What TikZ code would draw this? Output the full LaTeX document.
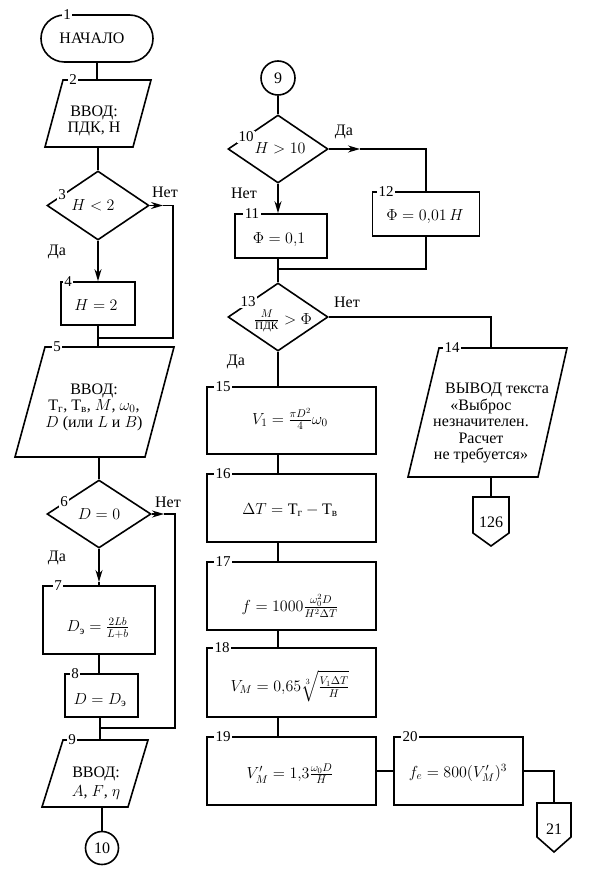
\RequirePackage{fix-cm}
\documentclass[tikz,border=0pt]{standalone}
\usepackage{amsmath}
\usepackage[no-math]{fontspec}
\setmainfont{Liberation Serif}
\usetikzlibrary{shapes.geometric,arrows.meta}
\tikzset{
  ln/.style={line width=1.6pt},
  arr/.style={line width=1.6pt,-{Stealth[length=12pt,width=7pt]}},
  rbox/.style={draw,line width=1.6pt,rectangle,inner sep=0pt},
  dbox/.style={draw,line width=1.6pt,diamond,inner sep=0pt},
  txt/.style={inner sep=0pt,align=center,font=\fontsize{16}{16.5}\selectfont},
  num/.style={fill=white,inner sep=1.3pt,font=\fontsize{15}{15}\selectfont},
  conn/.style={draw,line width=1.6pt,circle,inner sep=0pt,font=\fontsize{16}{16}\selectfont}
}
\begin{document}
\begin{tikzpicture}[x=1pt,y=-1pt]
\useasboundingbox (0,0) rectangle (589,877);
% ---------------- left column ----------------
% 1
\node[rbox, rounded corners=23.5pt, minimum width=112pt, minimum height=47pt] (n1) at (97,38.5) {};
\node[txt] (t1) at (92,38) {НАЧАЛО};
% 2
\draw[ln] (63,80) -- (151,80) -- (133,147) -- (45,147) -- cycle;
\coordinate (p2n) at (97,80);
\coordinate (p2s) at (98,147);
\node[txt] (t2) at (94,121) {ВВОД:\\ПДК, Н};
\draw[ln] (n1.south) -- (p2n);
% 3
\node[dbox, minimum width=102pt, minimum height=69pt] (d3) at (98,205.5) {};
\node[txt] (t3) at (93,205) {$H<2$};
\draw[ln] (p2s) -- (d3.north);
\coordinate (a3) at (163,205.5);
\coordinate (c3) at (173,205.5);
\coordinate (c3b) at (173,338);
\coordinate (j5) at (98,338);
\draw[arr] (d3.east) -- (a3);
\draw[ln] (a3) -- (c3) -- (c3b) -- (j5);
\node[txt] (no3) at (165,192) {Нет};
\node[txt] (yes3) at (57,252) {Да};
% 4
\node[rbox, minimum width=74pt, minimum height=43pt] (r4) at (98,303.5) {};
\node[txt] (t4) at (96,305) {$H=2$};
\draw[arr] (d3.south) -- (r4.north);
\coordinate (p5n) at (98,347);
\draw[ln] (r4.south) -- (p5n);
% 5
\draw[ln] (45,347) -- (174,347) -- (145,457) -- (15,457) -- cycle;
\node[txt] (t5) at (94,407) {ВВОД:\\$\text{Т}_\text{г}$, $\text{Т}_\text{в}$, $M$, $\omega_0$,\\$D$ (или $L$ и $B$)};
\coordinate (p5s) at (99,457);
% 6
\node[dbox, minimum width=104pt, minimum height=68pt] (d6) at (99,514) {};
\node[txt] (t6) at (99,514) {$D=0$};
\draw[ln] (p5s) -- (d6.north);
\coordinate (a6) at (164,514);
\coordinate (c6) at (175,514);
\coordinate (c6b) at (175,728);
\coordinate (j9) at (100,728);
\draw[arr] (d6.east) -- (a6);
\draw[ln] (a6) -- (c6) -- (c6b) -- (j9);
\node[txt] (no6) at (168,502) {Нет};
\node[txt] (yes6) at (57,558) {Да};
% 7
\node[rbox, minimum width=112pt, minimum height=68pt] (r7) at (99,620) {};
\node[txt] (t7) at (98,628) {$D_\text{э}=\frac{2Lb}{L+b}$};
\coordinate (a6d) at (99,582);
\draw[arr] (d6.south) -- (a6d);
\draw[ln] (a6d) -- (r7.north);
% 8
\node[rbox, minimum width=73pt, minimum height=43pt] (r8) at (101.5,695.5) {};
\node[txt] (t8) at (100,700) {$D=D_\text{э}$};
\draw[ln] (r7.south) -- (r7.south |- r8.north);
\coordinate (p9n) at (100,740);
\draw[ln] (r8.south -| p9n) -- (p9n);
% 9
\draw[ln] (63,740) -- (148,740) -- (128,807) -- (42,807) -- cycle;
\node[txt] (t9) at (96,783) {ВВОД:\\[2pt]$A$, $F$, $\eta$};
\coordinate (p9s) at (102,807);
\node[conn, minimum size=33pt] (c10) at (102,848) {10};
\draw[ln] (p9s) -- (c10.north);
% ---------------- right column ----------------
\node[conn, minimum size=34pt] (c9) at (278,78) {9};
\node[dbox, minimum width=100pt, minimum height=68pt] (d10) at (278,149) {};
\node[txt] (t10) at (280,148) {$H>10$};
\draw[ln] (c9.south) -- (d10.north);
\coordinate (a10) at (360,149);
\coordinate (c10r) at (426,149);
\node[rbox, minimum width=107pt, minimum height=44pt] (r12) at (426,214) {};
\node[txt] (t12) at (425,217) {$\Phi=0{,}01\,H$};
\draw[arr] (d10.east) -- (a10);
\draw[ln] (a10) -- (c10r) -- (r12.north);
\node[txt] (yes10) at (344,132) {Да};
\node[txt] (no10) at (244,193) {Нет};
% 11
\node[rbox, minimum width=92pt, minimum height=44pt] (r11) at (281,236) {};
\node[txt] (t11) at (279,240) {$\Phi=0{,}1$};
\draw[arr] (d10.south) -- (d10.south |- r11.north);
% join
\coordinate (j13) at (278,269);
\coordinate (j12) at (426,269);
\draw[ln] (r12.south) -- (j12) -- (j13);
% 13
\node[dbox, minimum width=100pt, minimum height=68pt] (d13) at (278,317) {};
\node[txt] (t13) at (283,321) {$\frac{M}{\text{ПДК}}>\Phi$};
\draw[ln] (d10.south |- r11.south) -- (d13.north);
\coordinate (c13) at (491,317);
\coordinate (p14n) at (491,348);
\draw[ln] (d13.east) -- (c13) -- (p14n);
\node[txt] (no13) at (347,302) {Нет};
\node[txt] (yes13) at (236,362) {Да};
% 14
\draw[ln] (439,348) -- (567,348) -- (538,477) -- (408,477) -- cycle;
\node[txt] (t14) at (481,423) {\hspace*{32pt}ВЫВОД текста\\«Выброс\\незначителен.\\Расчет\\не требуется»};
\coordinate (p14s) at (491,477);
\coordinate (o126n) at (491,497);
\draw[ln] (p14s) -- (o126n);
\draw[ln] (473,497) -- (509,497) -- (509,533) -- (491,546) -- (473,533) -- cycle;
\node[txt] (t126) at (491,522) {126};
% 15..19
\node[rbox, minimum width=169pt, minimum height=67pt] (r15) at (291.5,420.5) {};
\node[txt] (t15) at (290,419) {$V_1=\frac{\pi D^2}{4}\omega_0$};
\draw[ln] (d13.south) -- (d13.south |- r15.north);
\node[rbox, minimum width=169pt, minimum height=68pt] (r16) at (291.5,508) {};
\node[txt] (t16) at (290,510) {$\Delta T=\text{Т}_\text{г}-\text{Т}_\text{в}$};
\draw[ln] (d13.south |- r15.south) -- (d13.south |- r16.north);
\node[rbox, minimum width=169pt, minimum height=68pt] (r17) at (291.5,596) {};
\node[txt] (t17) at (290,606) {$f=1000\frac{\omega_0^2D}{H^2\Delta T}$};
\draw[ln] (d13.south |- r16.south) -- (d13.south |- r17.north);
\node[rbox, minimum width=169pt, minimum height=69pt] (r18) at (291.5,682.5) {};
\node[txt] (t18) at (290,686) {$V_M=0{,}65\sqrt[3]{\frac{V_1\Delta T}{H}}$};
\draw[ln] (d13.south |- r17.south) -- (d13.south |- r18.north);
\node[rbox, minimum width=169pt, minimum height=68pt] (r19) at (291.5,771) {};
\node[txt] (t19) at (290,774) {$V'_M=1{,}3\frac{\omega_0D}{H}$};
\draw[ln] (d13.south |- r18.south) -- (d13.south |- r19.north);
% 20
\node[rbox, minimum width=129pt, minimum height=68pt] (r20) at (458.5,771) {};
\node[txt] (t20) at (458,773) {$f_e=800(V'_M)^3$};
\draw[ln] (r19.east) -- (r20.west);
\coordinate (c20) at (554,771);
\coordinate (o21n) at (554,803);
\draw[ln] (r20.east) -- (c20) -- (o21n);
\draw[ln] (537,803) -- (571,803) -- (571,837) -- (554,852) -- (537,837) -- cycle;
\node[txt] (t21) at (554,829) {21};
% ---------------- step numbers ----------------
\node[num] (s1) at (67,15) {1};
\node[num] (s2) at (73,80) {2};
\node[num] (s3) at (62,195) {3};
\node[num] (s4) at (68,282) {4};
\node[num] (s5) at (57,347) {5};
\node[num] (s6) at (64,502) {6};
\node[num] (s7) at (58,586) {7};
\node[num] (s8) at (75,674) {8};
\node[num] (s9) at (72,740) {9};
\node[num] (s10) at (246,137) {10};
\node[num] (s11) at (252,214) {11};
\node[num] (s12) at (386,192) {12};
\node[num] (s13) at (248,302) {13};
\node[num] (s14) at (452,348) {14};
\node[num] (s15) at (223,387) {15};
\node[num] (s16) at (223,474) {16};
\node[num] (s17) at (223,562) {17};
\node[num] (s18) at (222,648) {18};
\node[num] (s19) at (223,737) {19};
\node[num] (s20) at (410,737) {20};
\end{tikzpicture}
\end{document}
